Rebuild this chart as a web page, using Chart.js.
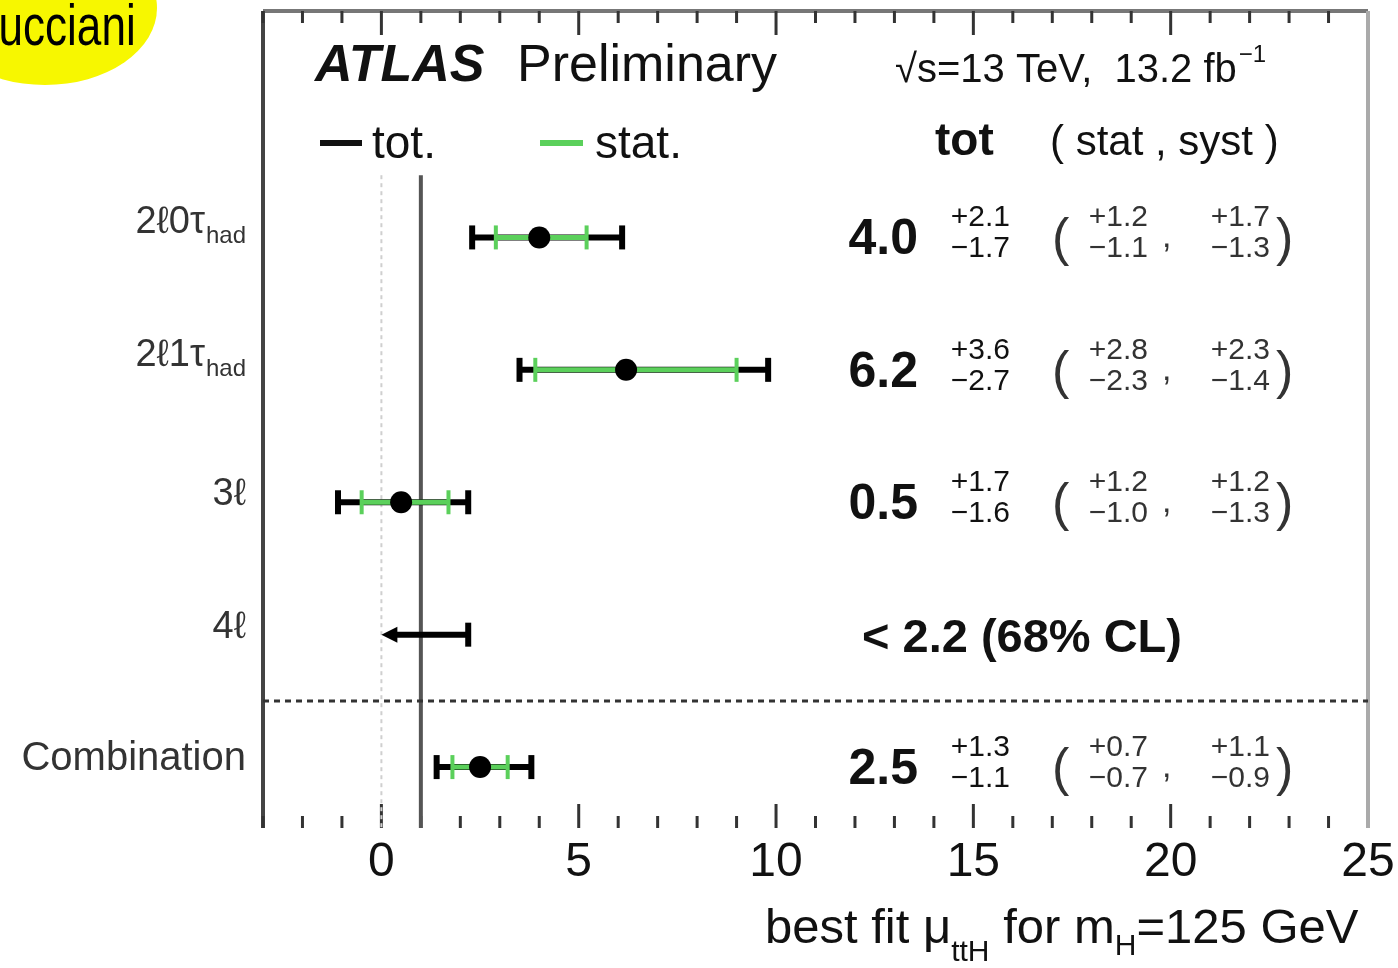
<!DOCTYPE html>
<html>
<head>
<meta charset="utf-8">
<script src="https://cdn.jsdelivr.net/npm/chart.js@4"></script>
<style>
html, body { margin: 0; padding: 0; background: #fff; overflow: hidden; }
#wrap { width: 1398px; height: 968px; }
</style>
</head>
<body>
<div id="wrap"><canvas id="chart" width="1398" height="968"></canvas></div>
<script>
// channel rows (top to bottom)
const channels = ['2ℓ0τ', '2ℓ1τ', '3ℓ', '4ℓ', 'Combination'];
const channelSubs = ['had', 'had', '', '', ''];
const rowPos = [0, 1, 2, 3, 4];

// best fit mu_ttH and uncertainties
const bestFit = [4.0, 6.2, 0.5, null, 2.5];
const totUp = [2.1, 3.6, 1.7, null, 1.3];
const totDown = [1.7, 2.7, 1.6, null, 1.1];
const statUp = [1.2, 2.8, 1.2, null, 0.7];
const statDown = [1.1, 2.3, 1.0, null, 0.7];
const systUp = [1.7, 2.3, 1.2, null, 1.1];
const systDown = [1.3, 1.4, 1.3, null, 0.9];

// 4l only has an upper limit
const limitLow = [null, null, null, 0, null];
const limitHigh = [null, null, null, 2.2, null];

const xTickLabels = [0, 5, 10, 15, 20, 25];
const smValue = 1;
const separatorPos = 3.5;

const FONT = '"Liberation Sans", Arial, Helvetica, sans-serif';
const GREEN = '#5bd05b';
const fmt = v => v.toFixed(1);

function hbar(ctx, x1, x2, y, color, lw, capH, capW) {
  ctx.strokeStyle = color;
  ctx.lineWidth = lw;
  ctx.beginPath(); ctx.moveTo(x1, y); ctx.lineTo(x2, y); ctx.stroke();
  ctx.lineWidth = capW;
  [x1, x2].forEach(x => {
    ctx.beginPath(); ctx.moveTo(x, y - capH / 2); ctx.lineTo(x, y + capH / 2); ctx.stroke();
  });
}

function txt(ctx, s, x, y, size, opts = {}) {
  ctx.font = (opts.style || '') + ' ' + (opts.weight || 'normal') + ' ' + size + 'px ' + FONT;
  ctx.fillStyle = opts.color || '#111';
  ctx.textAlign = opts.align || 'left';
  ctx.textBaseline = 'alphabetic';
  ctx.fillText(s, x, y);
  return ctx.measureText(s).width;
}

const atlasPlugin = {
  id: 'atlas',
  beforeDatasetsDraw(chart) {
    const { ctx, chartArea: a, scales: { x, y } } = chart;
    ctx.save();

    // frame
    ctx.lineCap = 'butt';
    ctx.strokeStyle = '#777'; ctx.lineWidth = 4;
    ctx.beginPath(); ctx.moveTo(a.left, a.top); ctx.lineTo(a.right, a.top); ctx.stroke();
    ctx.strokeStyle = '#444'; ctx.lineWidth = 4;
    ctx.beginPath(); ctx.moveTo(a.left, a.top); ctx.lineTo(a.left, a.bottom); ctx.stroke();
    ctx.strokeStyle = '#aaa'; ctx.lineWidth = 4;
    ctx.beginPath(); ctx.moveTo(a.right, a.top); ctx.lineTo(a.right, a.bottom); ctx.stroke();

    // inner ticks, top and bottom
    ctx.strokeStyle = '#333'; ctx.lineWidth = 3;
    for (let v = Math.ceil(x.min); v < x.max; v++) {
      const px = x.getPixelForValue(v);
      const len = v % 5 === 0 ? 24 : 12;
      ctx.beginPath(); ctx.moveTo(px, a.bottom); ctx.lineTo(px, a.bottom - len); ctx.stroke();
      ctx.beginPath(); ctx.moveTo(px, a.top); ctx.lineTo(px, a.top + len); ctx.stroke();
    }

    // reference lines at 0 and at SM value
    const refTop = y.getPixelForValue(-0.47);
    ctx.strokeStyle = '#cfcfcf'; ctx.lineWidth = 2; ctx.setLineDash([4, 4]);
    ctx.beginPath(); ctx.moveTo(x.getPixelForValue(0), refTop); ctx.lineTo(x.getPixelForValue(0), a.bottom); ctx.stroke();
    ctx.setLineDash([]);
    ctx.strokeStyle = '#555'; ctx.lineWidth = 4;
    ctx.beginPath(); ctx.moveTo(x.getPixelForValue(smValue), refTop); ctx.lineTo(x.getPixelForValue(smValue), a.bottom); ctx.stroke();

    // separator above combination
    const sy = y.getPixelForValue(separatorPos);
    ctx.strokeStyle = '#333'; ctx.lineWidth = 3; ctx.setLineDash([6, 5]);
    ctx.beginPath(); ctx.moveTo(a.left, sy); ctx.lineTo(a.right, sy); ctx.stroke();
    ctx.setLineDash([]);

    // error bars
    rowPos.forEach(i => {
      const py = y.getPixelForValue(i);
      if (bestFit[i] !== null) {
        hbar(ctx, x.getPixelForValue(bestFit[i] - totDown[i]), x.getPixelForValue(bestFit[i] + totUp[i]), py, '#000', 6, 24, 6);
        hbar(ctx, x.getPixelForValue(bestFit[i] - statDown[i]), x.getPixelForValue(bestFit[i] + statUp[i]), py, GREEN, 5, 24, 4);
      } else if (limitHigh[i] !== null) {
        const x1 = x.getPixelForValue(limitLow[i]);
        const x2 = x.getPixelForValue(limitHigh[i]);
        ctx.strokeStyle = '#000'; ctx.lineWidth = 6;
        ctx.beginPath(); ctx.moveTo(x1 + 8, py); ctx.lineTo(x2, py); ctx.stroke();
        ctx.beginPath(); ctx.moveTo(x2, py - 12); ctx.lineTo(x2, py + 12); ctx.stroke();
        ctx.fillStyle = '#000';
        ctx.beginPath(); ctx.moveTo(x1, py); ctx.lineTo(x1 + 16, py - 8); ctx.lineTo(x1 + 16, py + 8); ctx.closePath(); ctx.fill();
      }
    });
    ctx.restore();
  },
  afterDraw(chart) {
    const { ctx, chartArea: a, scales: { x, y } } = chart;
    ctx.save();

    // x tick labels and title
    xTickLabels.forEach(v => txt(ctx, String(v), x.getPixelForValue(v), a.bottom + 48, 48, { align: 'center' }));
    let tx = 765, tb = 943;
    tx += txt(ctx, 'best fit μ', tx, tb, 49);
    tx += txt(ctx, 'ttH', tx, tb + 18, 30);
    tx += txt(ctx, ' for m', tx, tb, 49);
    tx += txt(ctx, 'H', tx, tb + 12, 30);
    txt(ctx, '=125 GeV', tx, tb, 49);

    // header
    txt(ctx, 'ATLAS', 315, 81, 52, { weight: 'bold', style: 'italic' });
    txt(ctx, 'Preliminary', 517, 81, 52);
    let hx = 895;
    hx += txt(ctx, '√s=13 TeV,  13.2 fb', hx, 82, 40);
    txt(ctx, '−1', hx + 2, 62, 24);

    // legend
    ctx.lineWidth = 6;
    ctx.strokeStyle = '#111';
    ctx.beginPath(); ctx.moveTo(320, 143); ctx.lineTo(362, 143); ctx.stroke();
    txt(ctx, 'tot.', 372, 158, 46);
    ctx.strokeStyle = GREEN;
    ctx.beginPath(); ctx.moveTo(540, 143); ctx.lineTo(583, 143); ctx.stroke();
    txt(ctx, 'stat.', 595, 158, 46);
    txt(ctx, 'tot', 935, 155, 46, { weight: 'bold' });
    txt(ctx, '( stat , syst )', 1050, 155, 42);

    // channel labels
    rowPos.forEach(i => {
      const py = y.getPixelForValue(i) - 10;
      if (channelSubs[i]) {
        ctx.font = '24px ' + FONT;
        const sw = ctx.measureText(channelSubs[i]).width;
        txt(ctx, channelSubs[i], 246 - sw, py + 16, 24, { color: '#333' });
        txt(ctx, channels[i], 246 - sw - 1, py + 6, 38, { align: 'right', color: '#333' });
      } else {
        txt(ctx, channels[i], 246, py + 13, i === 4 ? 40 : 38, { align: 'right', color: '#333' });
      }
    });

    // numeric results
    rowPos.forEach(i => {
      const py = y.getPixelForValue(i);
      if (bestFit[i] !== null) {
        txt(ctx, fmt(bestFit[i]), 918, py + 17, 50, { weight: 'bold', align: 'right' });
        txt(ctx, '+' + fmt(totUp[i]), 1010, py - 11, 30, { align: 'right' });
        txt(ctx, '−' + fmt(totDown[i]), 1010, py + 20, 30, { align: 'right' });
        txt(ctx, '(', 1052, py + 18, 52, { color: '#333' });
        txt(ctx, '+' + fmt(statUp[i]), 1148, py - 11, 30, { align: 'right', color: '#333' });
        txt(ctx, '−' + fmt(statDown[i]), 1148, py + 20, 30, { align: 'right', color: '#333' });
        txt(ctx, ',', 1162, py + 10, 34, { color: '#333' });
        txt(ctx, '+' + fmt(systUp[i]), 1270, py - 11, 30, { align: 'right', color: '#333' });
        txt(ctx, '−' + fmt(systDown[i]), 1270, py + 20, 30, { align: 'right', color: '#333' });
        txt(ctx, ')', 1276, py + 18, 52, { color: '#333' });
      } else if (limitHigh[i] !== null) {
        txt(ctx, '< ' + fmt(limitHigh[i]) + ' (68% CL)', 862, py + 17, 47, { weight: 'bold' });
      }
    });

    // name tag in the corner
    ctx.fillStyle = '#f7f700';
    ctx.beginPath(); ctx.ellipse(45, 8, 112, 77, 0, 0, Math.PI * 2); ctx.fill();
    ctx.save();
    ctx.scale(0.76, 1);
    ctx.font = '58px ' + FONT;
    ctx.fillStyle = '#000'; ctx.textAlign = 'left';
    ctx.fillText('ucciani', -2, 45);
    ctx.restore();
    ctx.restore();
  }
};

const ctx = document.getElementById('chart').getContext('2d');
const chart = new Chart(ctx, {
  type: 'scatter',
  data: {
    datasets: [{
      data: rowPos.filter(i => bestFit[i] !== null).map(i => ({ x: bestFit[i], y: i })),
      pointRadius: 11,
      pointHoverRadius: 11,
      backgroundColor: '#000',
      borderWidth: 0
    }]
  },
  options: {
    responsive: false,
    animation: false,
    layout: { padding: { left: 263, right: 30, top: 10, bottom: 140 } },
    plugins: { legend: { display: false }, tooltip: { enabled: false } },
    scales: {
      x: { type: 'linear', min: -3, max: 25, display: false },
      y: { type: 'linear', min: -1.71, max: 4.46, reverse: true, display: false }
    }
  },
  plugins: [atlasPlugin]
});
</script>
</body>
</html>
